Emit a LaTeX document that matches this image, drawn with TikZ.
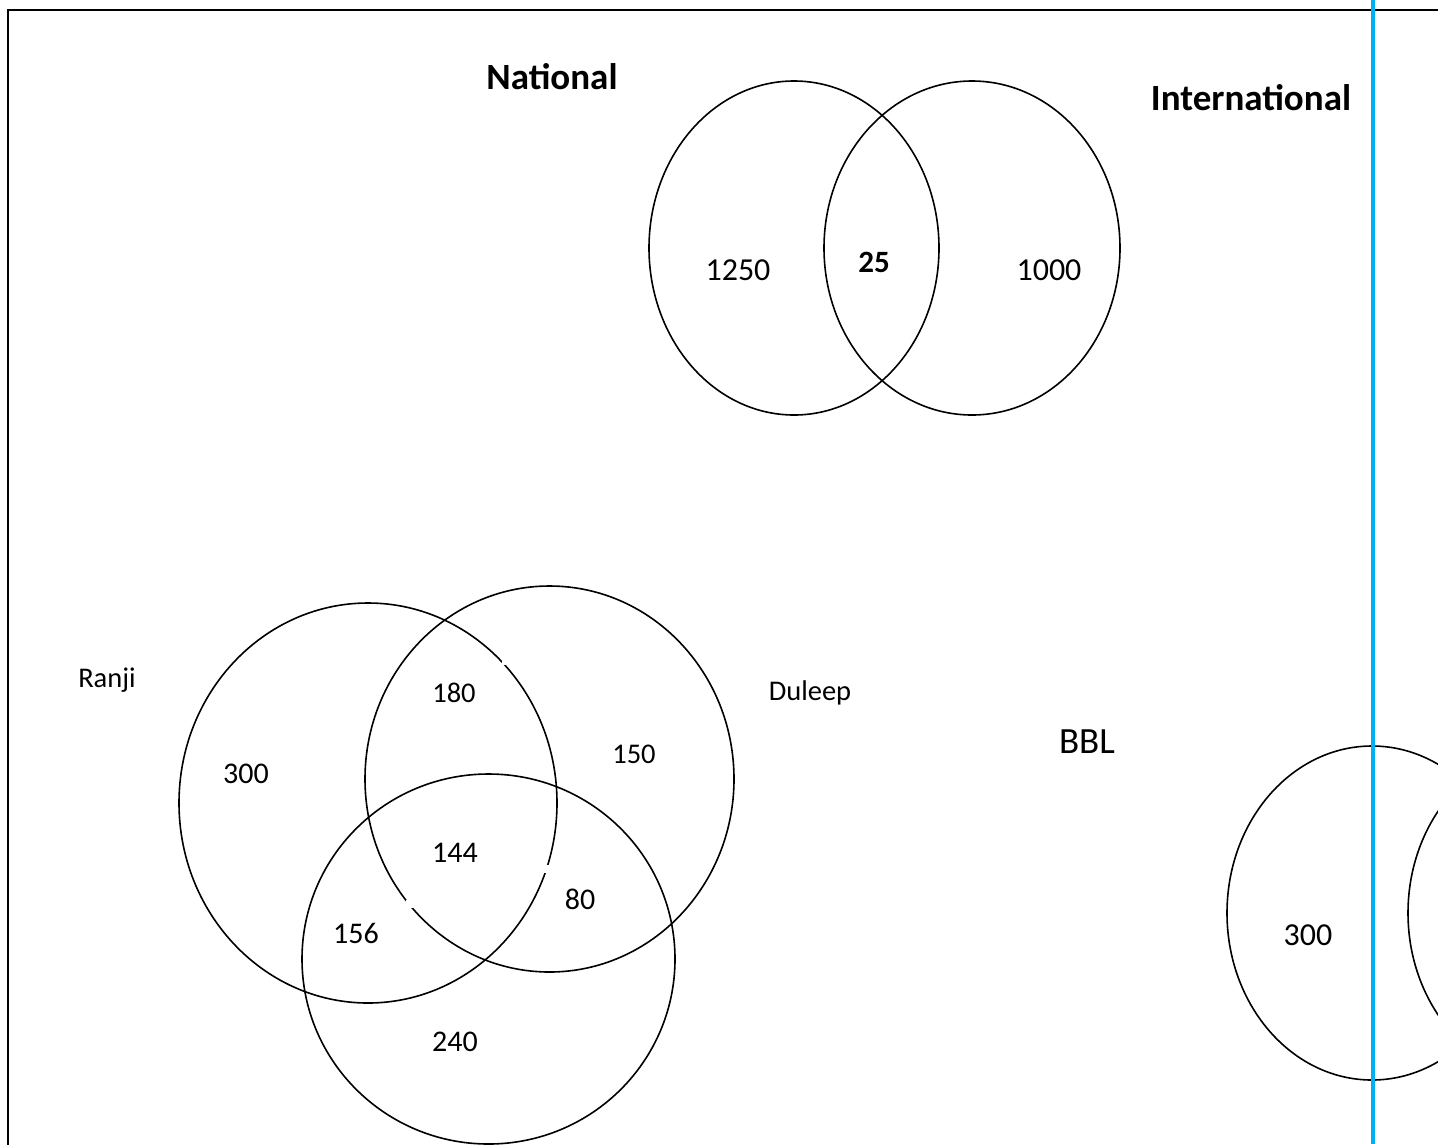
\documentclass[tikz,border=0pt]{standalone}
\usepackage{fontspec}
\setmainfont{Carlito}
\usetikzlibrary{shapes.geometric}
\definecolor{lineblue}{HTML}{00B0F0}
\tikzset{
  venn/.style={draw=black, line width=1.6pt, ellipse, inner sep=0pt},
  num/.style={font=\fontsize{32}{38}\selectfont, inner sep=0pt},
  numb/.style={font=\fontsize{30}{36}\selectfont, inner sep=0pt},
  small/.style={font=\fontsize{28.5}{34}\selectfont, inner sep=0pt},
  title/.style={font=\fontsize{37}{44}\selectfont\bfseries, inner sep=0pt},
  gap/.style={fill=white, draw=none},
}
\begin{document}
\begin{tikzpicture}[x=1pt,y=-1pt]
\useasboundingbox (0,0) rectangle (1438,1144);
\clip (0,0) rectangle (1438,1144);
\fill[white] (0,0) rectangle (1438,1144);
% border
\draw[line width=2.2pt] (8,1150) -- (8,10) -- (1445,10);
% top venn
\node[venn, minimum width=290pt, minimum height=334pt] (nat) at (794,248) {};
\node[venn, minimum width=296pt, minimum height=334pt] (intl) at (972,248) {};
% bottom venn
\node[venn, minimum width=378pt, minimum height=400pt] (ranji) at (368,803) {};
\node[venn, minimum width=369pt, minimum height=386pt] (duleep) at (549.5,779) {};
\node[venn, minimum width=373pt, minimum height=370pt] (bbl) at (488.5,959) {};
% small white gaps in the outlines
\fill[gap] (502,660) rectangle (506,665);
\fill[gap] (543,865) rectangle (549,873);
\fill[gap] (406,900) rectangle (414,908);
% right ellipses
\node[venn, minimum width=290pt, minimum height=334pt] (r1) at (1372,913) {};
\node[venn, minimum width=290pt, minimum height=334pt] (r2) at (1553,913) {};
% blue line
\coordinate (btop) at (1373,0);
\coordinate (bbot) at (1373,1144);
\draw[lineblue, line width=4pt] (btop) -- (bbot);
% labels
\node[title] (tnat) at (552,77) {National};
\node[title] (tint) at (1251,98) {International};
\node[num] (n1250) at (738,270) {1250};
\node[font=\fontsize{31}{37}\selectfont\bfseries, inner sep=0pt] (n25) at (874,262) {25};
\node[num] (n1000) at (1049,270) {1000};
\node[small] (tranji) at (107,680) {Ranji};
\node[small] (tduleep) at (810,693) {Duleep};
\node[font=\fontsize{37}{44}\selectfont, inner sep=0pt] (tbbl) at (1087,742) {BBL};
\node[small] (n180) at (454,693) {180};
\node[numb] (n300) at (246,774) {300};
\node[small] (n150) at (634,754) {150};
\node[numb] (n144) at (455,853) {144};
\node[numb] (n80) at (580,899) {80};
\node[numb] (n156) at (356,933) {156};
\node[numb] (n240) at (455,1042) {240};
\node[num] (n300b) at (1308,935) {300};
\end{tikzpicture}
\end{document}
